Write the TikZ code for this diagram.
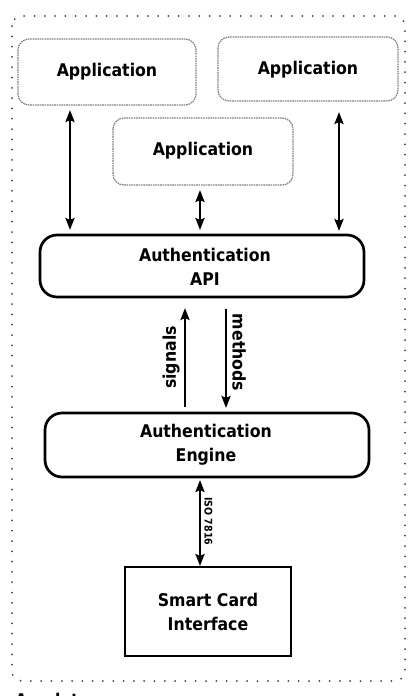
\documentclass[tikz,border=0pt]{standalone}
\usepackage{fontspec}
\setmainfont{DejaVu Sans Condensed}
\usetikzlibrary{arrows.meta}
\begin{document}
\begin{tikzpicture}[x=1pt,y=-1pt,
  appbox/.style={draw=black!50, line width=1.2pt, dash pattern=on 1.6pt off 0.8pt, rounded corners=11pt, fill=white},
  authbox/.style={draw=black, line width=2.7pt, rounded corners=17pt},
  cardbox/.style={draw=black, line width=2.7pt},
  lbl/.style={font=\fontsize{17.5}{24}\selectfont\bfseries, align=center, inner sep=0pt},
  arr/.style={line width=2.9pt, -{Stealth[length=12pt,width=9pt,inset=2pt]}},
  darr/.style={line width=2.9pt, {Stealth[length=12pt,width=9pt,inset=2pt]}-{Stealth[length=12pt,width=9pt,inset=2pt]}},
  outer/.style={draw=black!75, line width=2pt, line cap=round, dash pattern=on 0pt off 10.3pt, rounded corners=10pt}
]
\useasboundingbox (0,0) rectangle (412,696);
\draw[outer] (12,16) rectangle (405,681);

% application boxes
\draw[appbox] (18,39) rectangle (196,105);
\node[lbl] (app1) at (107,72) {Application};
\coordinate (app1b) at (70,110);
\draw[appbox] (218,37) rectangle (398,101);
\node[lbl] (app2) at (308,70) {Application};
\coordinate (app2b) at (339,112);
\draw[appbox] (113,118) rectangle (293,185);
\node[lbl] (app3) at (203,151) {Application};
\coordinate (app3b) at (200,190);

% API
\draw[authbox] (40,235) rectangle (364,297);
\node[lbl] (api) at (205,267) {Authentication\\API};
\coordinate (apiL) at (70,230);
\coordinate (apiM) at (200,230);
\coordinate (apiR) at (339,231);
\coordinate (apiS) at (185,308);
\coordinate (apiMe) at (226,309);

% Engine
\draw[authbox] (45,413) rectangle (369,477);
\node[lbl] (eng) at (206,445) {Authentication\\Engine};
\coordinate (engS) at (185,407);
\coordinate (engMe) at (226,408);
\coordinate (engB) at (200,480);

% Smart card
\node[cardbox, minimum width=166pt, minimum height=89pt, inner sep=0pt] (card) at (208,611.5) {};
\node[lbl] (cardtxt) at (208,611.5) {Smart Card\\Interface};
\coordinate (cardT) at (200,566);

% arrows
\draw[darr] (app1b) -- (apiL);
\draw[darr] (app2b) -- (apiR);
\draw[darr] (app3b) -- (apiM);
\draw[arr] (engS) -- node[lbl, rotate=90, anchor=south, inner sep=4pt] (sig) {signals} (apiS);
\draw[arr] (apiMe) -- node[lbl, rotate=-90, anchor=south, inner sep=5pt, pos=0.44] (meth) {methods} (engMe);
\draw[darr] (engB) -- node[font=\fontsize{10.5}{12}\selectfont\bfseries, rotate=-90, anchor=south, inner sep=3pt, pos=0.48] (iso) {ISO 7816} (cardT);

% Amulet caption (cut by page edge)
\node[font=\fontsize{17.5}{20}\selectfont\bfseries, anchor=north west, inner sep=0pt] (amulet) at (15,692.5) {Amulet};
\end{tikzpicture}
\end{document}
